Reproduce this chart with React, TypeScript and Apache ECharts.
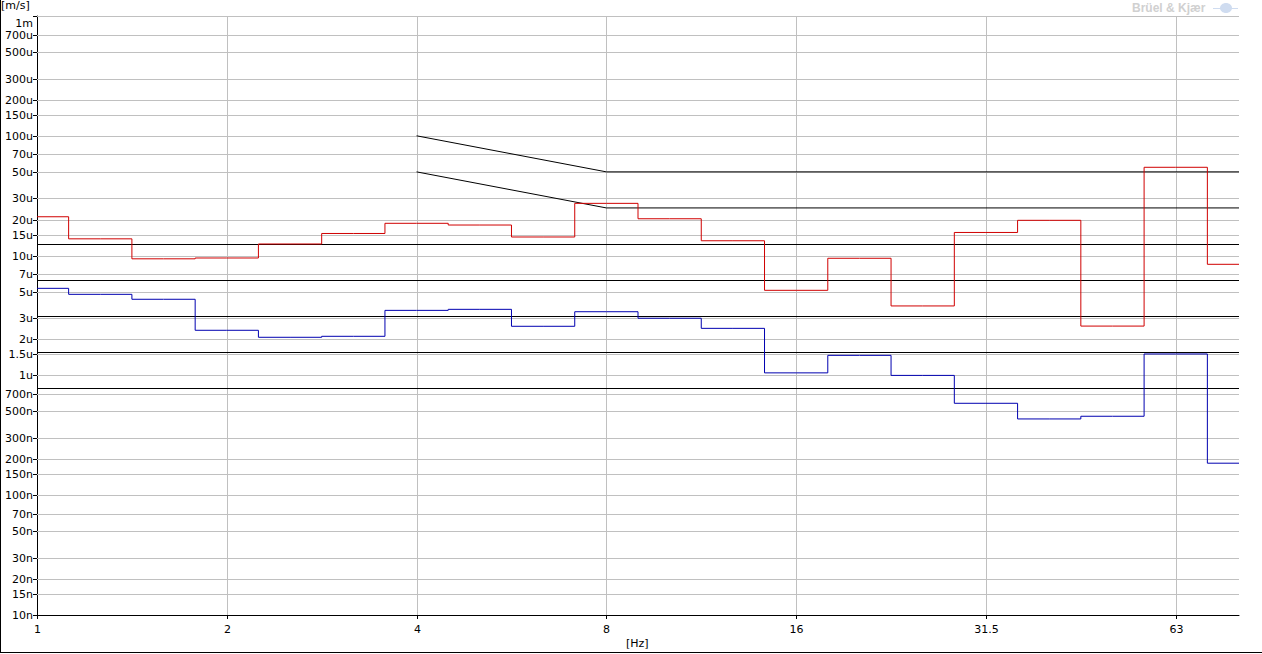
import React, { useEffect, useRef } from "react";
import * as echarts from "echarts";

// Third-octave band centre frequencies (x positions are band indices)
const bandLabels = ["1", "1.25", "1.6", "2", "2.5", "3.15", "4", "5", "6.3", "8", "10", "12.5", "16", "20", "25", "31.5", "40", "50", "63", "80"];

// Red spectrum [m/s]
const redValues = [
  2.11e-5, 1.38e-5, 9.4e-6, 9.55e-6, 1.25e-5, 1.53e-5, 1.86e-5, 1.8e-5, 1.43e-5, 2.73e-5,
  2.03e-5, 1.33e-5, 5.13e-6, 9.5e-6, 3.8e-6, 1.56e-5, 1.97e-5, 2.58e-6, 5.46e-5, 8.46e-6,
];
// Blue spectrum [m/s]
const blueValues = [
  5.33e-6, 4.75e-6, 4.32e-6, 2.38e-6, 2.08e-6, 2.12e-6, 3.49e-6, 3.56e-6, 2.57e-6, 3.4e-6,
  3.0e-6, 2.47e-6, 1.05e-6, 1.47e-6, 1.0e-6, 5.85e-7, 4.33e-7, 4.56e-7, 1.51e-6, 1.85e-7,
];

// Criterion curves (band index, value)
const criterionUpper = [[6, 1e-4], [9, 5e-5], [19, 5e-5]];
const criterionLower = [[6, 5e-5], [9, 2.5e-5], [19, 2.5e-5]];
const vcLevels = [12.5e-6, 6.25e-6, 3.125e-6, 1.5625e-6, 0.78125e-6];

// Y ticks
const yTickValues = [
  1e-3, 7e-4, 5e-4, 3e-4, 2e-4, 1.5e-4, 1e-4, 7e-5, 5e-5, 3e-5, 2e-5, 1.5e-5, 1e-5, 7e-6, 5e-6,
  3e-6, 2e-6, 1.5e-6, 1e-6, 7e-7, 5e-7, 3e-7, 2e-7, 1.5e-7, 1e-7, 7e-8, 5e-8, 3e-8, 2e-8, 1.5e-8, 1e-8,
];
const yTickLabels = [
  "1m", "700u", "500u", "300u", "200u", "150u", "100u", "70u", "50u", "30u", "20u", "15u", "10u", "7u", "5u",
  "3u", "2u", "1.5u", "1u", "700n", "500n", "300n", "200n", "150n", "100n", "70n", "50n", "30n", "20n", "15n", "10n",
];
// X ticks (band indices)
const xTickIndex = [0, 3, 6, 9, 12, 15, 18];
const xTickLabels = ["1", "2", "4", "8", "16", "31.5", "63"];

const X_MIN = 0;
const X_MAX = bandLabels.length - 1;
const Y_MIN = 1e-8;
const Y_MAX = 1e-3;
const FONT = "DejaVu Sans";

export default function App() {
  const ref = useRef<HTMLDivElement>(null);

  useEffect(() => {
    if (!ref.current) return;
    const chart = echarts.init(ref.current, undefined, { renderer: "svg" });

    const series: any[] = [];

    // y grid, ticks, labels
    series.push({
      type: "custom",
      coordinateSystem: "cartesian2d",
      silent: true,
      clip: false,
      z: 1,
      data: yTickValues.map((v) => [X_MIN, v]),
      renderItem: (params: any, api: any) => {
        const v = api.value(1);
        const pt = api.coord([X_MIN, v]);
        const cs = params.coordSys;
        const y = Math.round(pt[1]) + 0.5;
        const children: any[] = [];
        if (v !== Y_MIN) {
          children.push({
            type: "line",
            shape: { x1: cs.x, y1: y, x2: cs.x + cs.width, y2: y },
            style: { stroke: "#c0c0c0", lineWidth: 1 },
          });
        }
        children.push({
          type: "line",
          shape: { x1: cs.x - 4, y1: y, x2: cs.x, y2: y },
          style: { stroke: "#000", lineWidth: 1 },
        });
        const isTop = v === Y_MAX;
        children.push({
          type: "text",
          x: cs.x - 4,
          y: isTop ? y + 1 : y,
          style: {
            text: yTickLabels[params.dataIndex],
            align: "right",
            verticalAlign: isTop ? "top" : "middle",
            fill: "#000",
            fontSize: 11,
            fontFamily: FONT,
          },
        });
        return { type: "group", children };
      },
    });

    // x grid, ticks, labels
    series.push({
      type: "custom",
      coordinateSystem: "cartesian2d",
      silent: true,
      clip: false,
      z: 1,
      data: xTickIndex.map((i) => [i, Y_MIN]),
      renderItem: (params: any, api: any) => {
        const i = api.value(0);
        const pt = api.coord([i, Y_MIN]);
        const cs = params.coordSys;
        const x = Math.round(pt[0]) + 0.5;
        const bottom = cs.y + cs.height;
        const children: any[] = [];
        if (i !== X_MIN) {
          children.push({
            type: "line",
            shape: { x1: x, y1: cs.y, x2: x, y2: bottom },
            style: { stroke: "#c0c0c0", lineWidth: 1 },
          });
        }
        children.push({
          type: "line",
          shape: { x1: x, y1: bottom, x2: x, y2: bottom + 4 },
          style: { stroke: "#000", lineWidth: 1 },
        });
        children.push({
          type: "text",
          x: x,
          y: bottom + 14,
          style: {
            text: xTickLabels[params.dataIndex],
            align: "center",
            verticalAlign: "middle",
            fill: "#000",
            fontSize: 11,
            fontFamily: FONT,
          },
        });
        return { type: "group", children };
      },
    });

    // horizontal criterion levels (crisp 1px)
    series.push({
      type: "custom",
      coordinateSystem: "cartesian2d",
      silent: true,
      clip: false,
      z: 3,
      data: vcLevels.map((v) => [X_MIN, v]),
      renderItem: (params: any, api: any) => {
        const v = api.value(1);
        const p0 = api.coord([X_MIN, v]);
        const p1 = api.coord([X_MAX, v]);
        const y = Math.round(p0[1]) + 0.5;
        return {
          type: "line",
          shape: { x1: p0[0], y1: y, x2: p1[0], y2: y },
          style: { stroke: "#000", lineWidth: 1 },
        };
      },
    });

    const blackLine = (data: number[][]) => ({
      type: "line",
      data,
      symbol: "none",
      silent: true,
      z: 3,
      lineStyle: { color: "#000", width: 1 },
    });

    series.push(blackLine(criterionUpper));
    series.push(blackLine(criterionLower));

    series.push({
      type: "line",
      step: "middle",
      data: redValues.map((v, i) => [i, v]),
      symbol: "none",
      silent: true,
      z: 4,
      lineStyle: { color: "#d00000", width: 1 },
    });
    series.push({
      type: "line",
      step: "middle",
      data: blueValues.map((v, i) => [i, v]),
      symbol: "none",
      silent: true,
      z: 4,
      lineStyle: { color: "#0000b0", width: 1 },
    });

    chart.setOption({
      animation: false,
      backgroundColor: "#ffffff",
      grid: { left: 37, top: 16, right: 23, bottom: 39, containLabel: false },
      xAxis: {
        type: "value",
        min: X_MIN,
        max: X_MAX,
        interval: 3,
        axisLine: { show: true, lineStyle: { color: "#000", width: 1 } },
        axisTick: { show: false },
        axisLabel: { show: false },
        splitLine: { show: false },
      },
      yAxis: {
        type: "log",
        logBase: 10,
        min: Y_MIN,
        max: Y_MAX,
        axisLine: { show: true, lineStyle: { color: "#000", width: 1 } },
        axisTick: { show: false },
        axisLabel: { show: false },
        splitLine: { show: false },
      },
      graphic: [
        {
          type: "text",
          left: 1,
          top: 0,
          style: { text: "[m/s]", fill: "#000", fontSize: 11, fontFamily: FONT },
        },
        {
          type: "text",
          left: 626,
          top: 638,
          style: { text: "[Hz]", fill: "#000", fontSize: 11, fontFamily: FONT },
        },
        {
          type: "text",
          left: 1132,
          top: 2,
          style: { text: "Brüel & Kjær", fill: "#d0d0d0", fontSize: 12, fontWeight: "bold", fontFamily: "Liberation Sans" },
        },
        {
          type: "ellipse",
          shape: { cx: 1226, cy: 8, rx: 6, ry: 5 },
          style: { fill: "#cfdcf0" },
        },
        {
          type: "line",
          shape: { x1: 1213, y1: 8.5, x2: 1238, y2: 8.5 },
          style: { stroke: "#cfdcf0", lineWidth: 1 },
        },
        {
          type: "line",
          shape: { x1: 0.5, y1: 0, x2: 0.5, y2: 653 },
          style: { stroke: "#000", lineWidth: 1 },
        },
        {
          type: "line",
          shape: { x1: 0, y1: 652.5, x2: 1262, y2: 652.5 },
          style: { stroke: "#000", lineWidth: 1 },
        },
      ],
      series,
    });

    return () => chart.dispose();
  }, []);

  return (
    <div
      ref={ref}
      style={{ position: "fixed", left: 0, top: 0, width: 1262, height: 654, background: "#fff" }}
    />
  );
}
